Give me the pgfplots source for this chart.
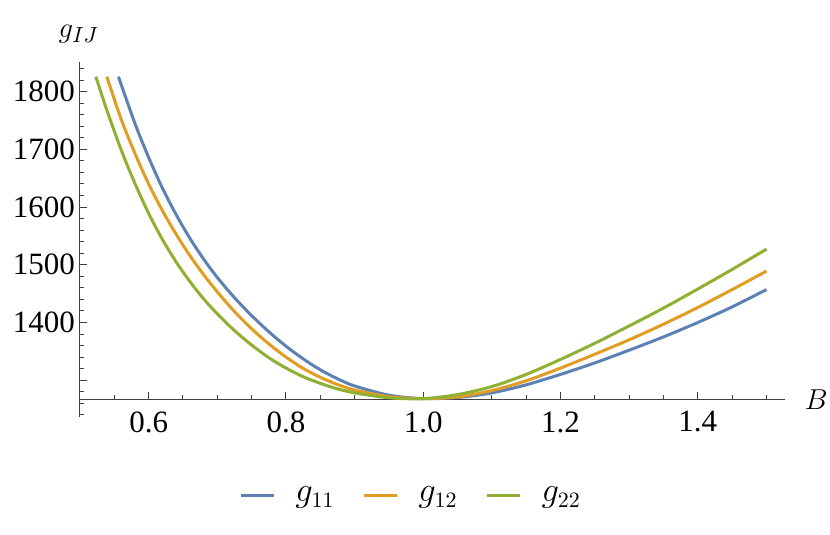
\documentclass[border=0pt]{standalone}
\usepackage{fontspec}
\setmainfont{Liberation Serif}
\usepackage{pgfplots}
\pgfplotsset{compat=1.18}
\definecolor{mblue}{HTML}{5E81B5}
\definecolor{morange}{HTML}{E19C24}
\definecolor{mgreen}{HTML}{8FB032}
\begin{document}
\begin{tikzpicture}
\useasboundingbox (-40pt,-59pt) rectangle (375pt,208.5pt);
\begin{axis}[
  scale only axis, width=352.5pt, height=177.5pt,
  xmin=0.5, xmax=1.527, ymin=1236.2, ymax=1851.4,
  axis y line=left, axis x line=bottom,
  axis x line shift=-8.89pt,
  axis line style={-, black!75, line width=0.5pt},
  tick style={black!75, line width=0.5pt},
  tick align=inside,
  major tick length=3.4pt, minor tick length=2.2pt,
  xtick={0.6,0.8,1.0,1.2,1.4}, xticklabels={0.6,0.8,1.0,1.2,1.4},
  minor xtick={0.55,0.65,0.7,0.75,0.85,0.9,0.95,1.05,1.1,1.15,1.25,1.3,1.35,1.45,1.5},
  ytick={1300,1400,1500,1600,1700,1800}, yticklabels={{},1400,1500,1600,1700,1800},
  minor ytick={1240,1260,1280,1320,1340,1360,1380,1420,1440,1460,1480,1520,1540,1560,1580,1620,1640,1660,1680,1720,1740,1760,1780,1820,1840},
  tick label style={font=\fontsize{15.5}{17}\selectfont},
  xticklabel style={yshift=-2.6pt},
  yticklabel style={xshift=1pt},
  clip=false,
  legend columns=-1,
  legend style={draw=none, fill=none, at={(axis description cs:0.471,-0.2225)}, anchor=center,
    font=\fontsize{16}{18}\selectfont,
    /tikz/every odd column/.append style={column sep=2pt},
    /tikz/every even column/.append style={column sep=12pt}},
  legend image code/.code={\draw[#1] (0pt,0pt) -- (16.5pt,0pt); \path (22.5pt,0pt);},
]
\addplot[mblue, line width=1.5pt, smooth] coordinates {
(0.556,1826) (0.58,1745) (0.60,1686) (0.62,1633) (0.64,1587) (0.66,1546) (0.68,1510)
(0.70,1478) (0.725,1443) (0.75,1412) (0.775,1384) (0.80,1359) (0.825,1337) (0.85,1318)
(0.875,1302.5) (0.90,1290) (0.95,1274) (1.00,1268) (1.05,1270) (1.10,1278) (1.15,1292)
(1.20,1310) (1.25,1330) (1.30,1352) (1.35,1375) (1.40,1400) (1.45,1427) (1.50,1457)};
\addplot[morange, line width=1.5pt, smooth] coordinates {
(0.539,1826) (0.56,1752) (0.58,1693) (0.60,1640) (0.62,1594) (0.64,1553) (0.66,1516)
(0.68,1483) (0.70,1453) (0.725,1419) (0.75,1389) (0.775,1363) (0.80,1340) (0.825,1320.5)
(0.85,1305) (0.875,1292.5) (0.90,1283) (0.95,1271.5) (1.00,1268) (1.05,1271) (1.10,1282)
(1.15,1299) (1.20,1321) (1.25,1345) (1.30,1370) (1.35,1397) (1.40,1426) (1.45,1457) (1.50,1489)};
\addplot[mgreen, line width=1.5pt, smooth] coordinates {
(0.523,1826) (0.54,1765) (0.56,1699) (0.58,1641) (0.60,1589) (0.62,1544) (0.64,1505)
(0.66,1471) (0.68,1441) (0.70,1415) (0.725,1386) (0.75,1361) (0.775,1339) (0.80,1321)
(0.825,1306) (0.85,1294.5) (0.875,1285) (0.90,1278) (0.95,1269.5) (1.00,1268) (1.05,1275)
(1.10,1289) (1.15,1310) (1.20,1336) (1.25,1364) (1.30,1394) (1.35,1425) (1.40,1458)
(1.45,1492) (1.50,1527)};
\legend{$g_{11}$,$g_{12}$,$g_{22}$}
\node[anchor=base, font=\fontsize{15}{17}\selectfont] at (axis description cs:0,1) [xshift=-0.6pt, yshift=12.3pt] {$g_{IJ}$};
\node[anchor=base, font=\fontsize{15}{17}\selectfont] at (axis description cs:1,0) [xshift=15.6pt, yshift=3.85pt] {$B$};
\end{axis}
\end{tikzpicture}
\end{document}
